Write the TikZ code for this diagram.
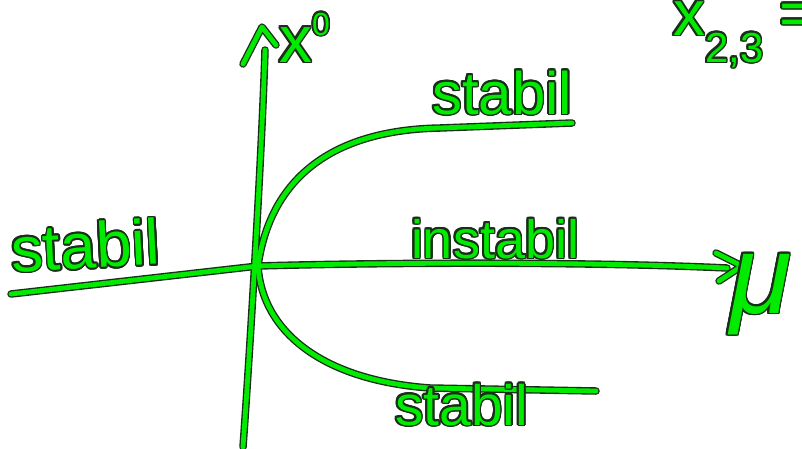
\documentclass[tikz,border=0pt]{standalone}
\usepackage{fontspec}
\setmainfont{Liberation Sans}
\usepackage[copies]{contour}
\contourlength{1.7pt}
\definecolor{hgreen}{RGB}{0,235,0}
\definecolor{hedge}{RGB}{25,45,25}
\newcommand{\gtext}[1]{\textcolor{hgreen}{\contour{hedge}{#1}}}
\newcommand{\fsz}[1]{\fontsize{#1}{#1}\selectfont}
\newcommand{\mystrokes}{%
  \draw[pen] (L) -- (O) .. controls (400,262) and (600,262) .. (R);
  \draw[pen] (B) .. controls (250,350) and (262,150) .. (T);
  \draw[pen] (ah1) -- (ah2) -- (ah3);
  \draw[pen] (vh1) -- (vh2) -- (vh3);
  \draw[pen] (O) .. controls (270,180) and (330,130) .. (440,128) -- (U);
  \draw[pen] (O) .. controls (262,330) and (320,380) .. (430,388) -- (D);
}
\begin{document}
\begin{tikzpicture}[x=1pt,y=-1pt,
  penout/.style={draw=hedge, line width=7.5pt, line cap=round, line join=round},
  penin/.style={draw=hgreen, line width=4.8pt, line cap=round, line join=round},
  lbl/.style={inner sep=0pt, outer sep=0pt}]
\useasboundingbox (0,0) rectangle (802,448);
\clip (0,0) rectangle (802,448);
\coordinate (O) at (258,266);
\coordinate (L) at (11,294);
\coordinate (R) at (727,268);
\coordinate (B) at (243,447);
\coordinate (T) at (265,50);
\coordinate (U) at (572,123);
\coordinate (D) at (596,391);
\coordinate (ah1) at (716,253);
\coordinate (ah2) at (742,266);
\coordinate (ah3) at (719,281);
\coordinate (vh1) at (243,64);
\coordinate (vh2) at (262,27);
\coordinate (vh3) at (276,45);
\begingroup
\tikzset{pen/.style={penout}}
\mystrokes
\tikzset{pen/.style={penin}}
\mystrokes
\endgroup
\node[lbl, anchor=base west] (s1) at (432,114) {\fsz{60}\gtext{stabil}};
\node[lbl, anchor=base west, rotate=3] (s2) at (12,272) {\fsz{64}\gtext{stabil}};
\node[lbl, anchor=base west] (ins) at (411,258) {\fsz{54}\gtext{instabil}};
\node[lbl, anchor=base west] (s3) at (395,425) {\fsz{57}\gtext{stabil}};
\node[lbl, anchor=base west, font=\itshape] (mu) at (730,313) {\fsz{112}\gtext{μ}};
\node[lbl, anchor=base west] (xl) at (279,62) {\fsz{66}\gtext{x\raisebox{27pt}{\fsz{32}0}}};
\node[lbl, anchor=base west] (x23) at (673,35) {\fsz{64}\gtext{x\raisebox{-27pt}{\fsz{42}2,3}\hspace{16pt}=}};
\end{tikzpicture}
\end{document}
